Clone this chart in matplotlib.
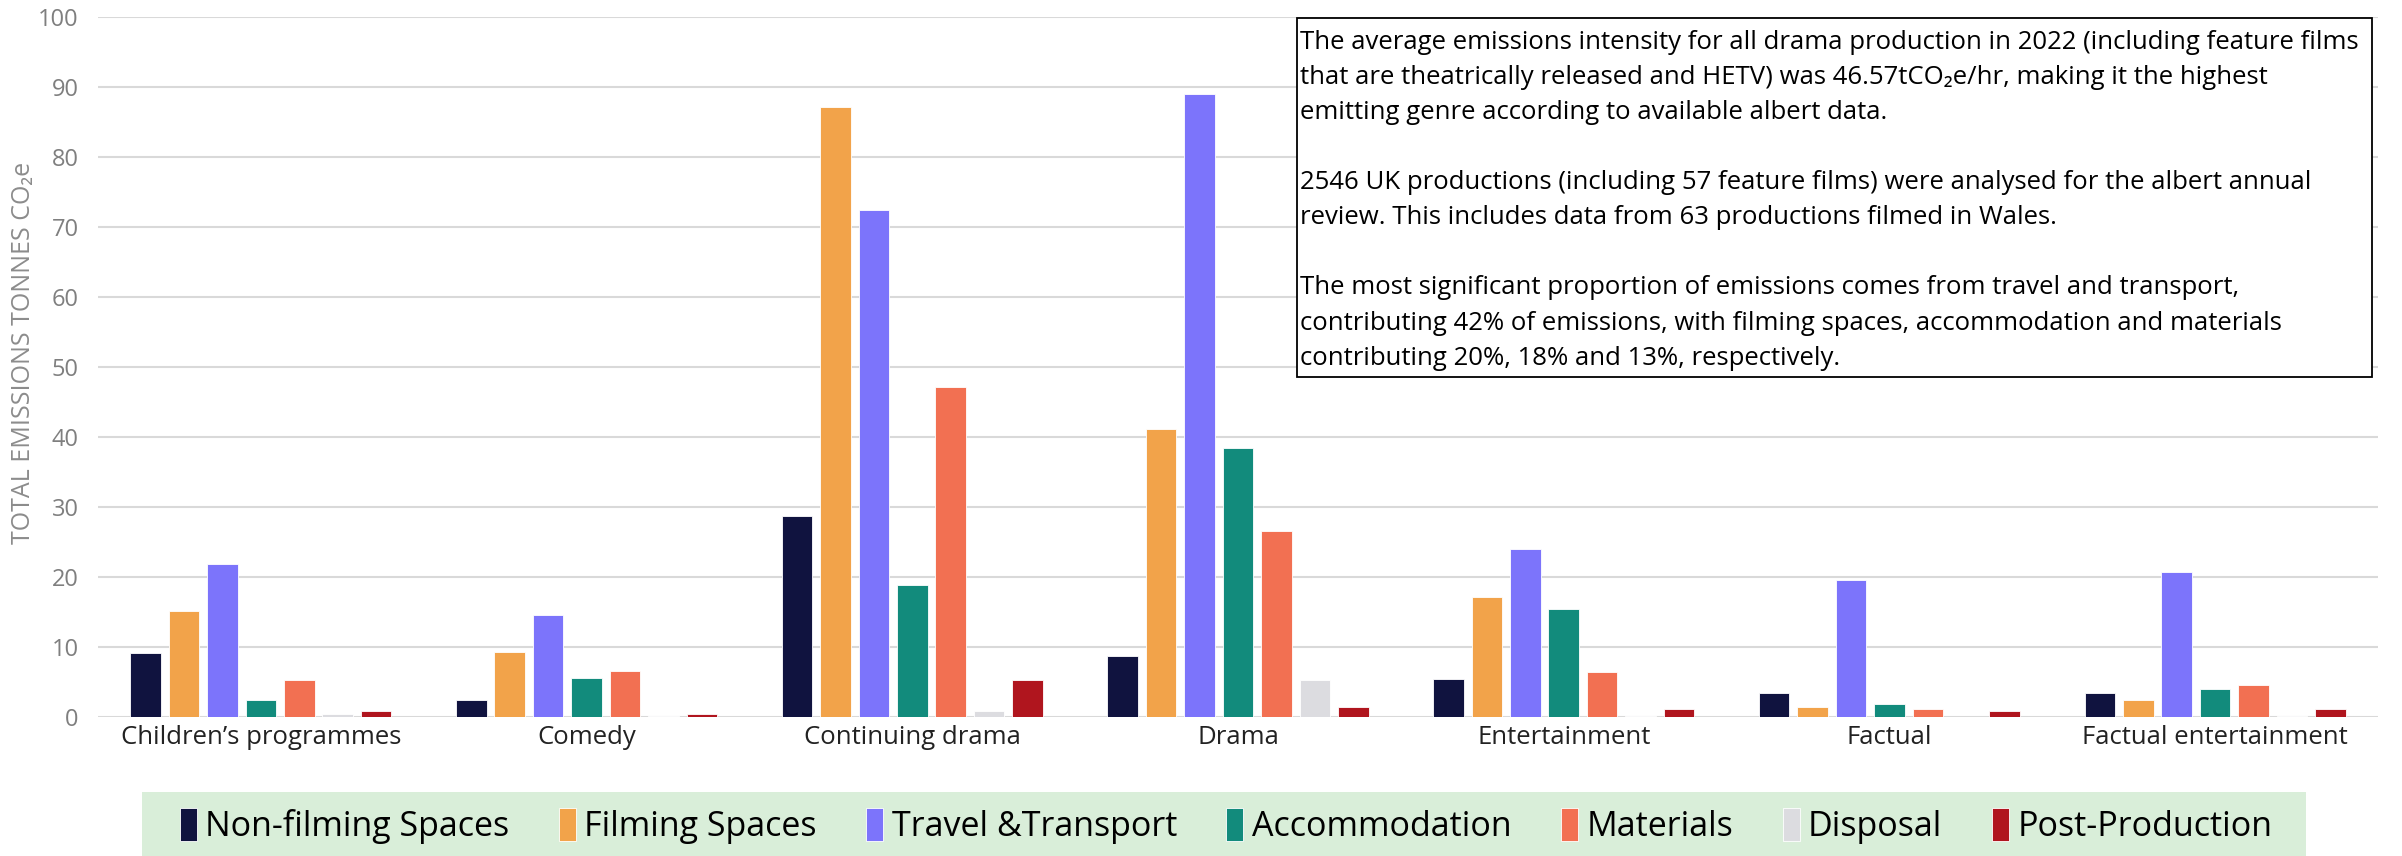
import matplotlib
matplotlib.use("Agg")
import matplotlib.pyplot as plt
from matplotlib.patches import Rectangle
import numpy as np

plt.rcParams["font.family"] = ["Open Sans", "DejaVu Sans"]

genres = ["Children\u2019s programmes", "Comedy", "Continuing drama", "Drama",
          "Entertainment", "Factual", "Factual entertainment"]
categories = ["Non-filming Spaces", "Filming Spaces", "Travel &Transport",
              "Accommodation", "Materials", "Disposal", "Post-Production"]
colors = ["#10133f", "#f2a34a", "#7c74fb", "#128b7c", "#f27052", "#dcdce0", "#b0151e"]

non_filming   = [9.2, 2.5, 28.7, 8.7, 5.4, 3.5, 3.4]
filming       = [15.1, 9.3, 87.2, 41.2, 17.1, 1.4, 2.4]
travel        = [21.9, 14.6, 72.5, 89.0, 24.0, 19.6, 20.7]
accommodation = [2.5, 5.6, 18.9, 38.5, 15.4, 1.9, 4.0]
materials     = [5.3, 6.6, 47.1, 26.6, 6.5, 1.1, 4.6]
disposal      = [0.5, 0.2, 0.8, 5.3, 0.15, 0.0, 0.15]
post_prod     = [0.9, 0.5, 5.3, 1.4, 1.2, 0.9, 1.2]
series = [non_filming, filming, travel, accommodation, materials, disposal, post_prod]

yticks = list(range(0, 101, 10))

note = ("The average emissions intensity for all drama production in 2022 (including feature films\n"
        "that are theatrically released and HETV) was 46.57tCO\u2082e/hr, making it the highest\n"
        "emitting genre according to available albert data.\n"
        "\n"
        "2546 UK productions (including 57 feature films) were analysed for the albert annual\n"
        "review. This includes data from 63 productions filmed in Wales.\n"
        "\n"
        "The most significant proportion of emissions comes from travel and transport,\n"
        "contributing 42% of emissions, with filming spaces, accommodation and materials\n"
        "contributing 20%, 18% and 13%, respectively.")

W, H = 2402, 856
fig = plt.figure(figsize=(W / 100, H / 100), dpi=100)
ax = fig.add_axes([98 / W, 1 - 717 / H, (2378 - 98) / W, (717 - 17) / H])

x = np.arange(len(genres))
pitch = 0.118
bw = 0.094
for i, (vals, name, c) in enumerate(zip(series, categories, colors)):
    ax.bar(x + (i - 3) * pitch, vals, bw, color=c, label=name,
           edgecolor="white", linewidth=0.6, zorder=3)

ax.set_xlim(-0.5, len(genres) - 0.5)
ax.set_ylim(0, 100)
ax.set_yticks(yticks)
ax.set_xticks(x)
ax.set_xticklabels(genres, fontsize=18.5, color="#222222")
ax.tick_params(axis="y", labelsize=17, labelcolor="#7f7f7f", length=0, pad=14)
ax.tick_params(axis="x", length=0, pad=6)
ax.grid(axis="y", color="#d9d9d9", linewidth=1.5, zorder=0)
for s in ax.spines.values():
    s.set_visible(False)
ax.set_ylabel("TOTAL EMISSIONS TONNES CO\u2082e", fontsize=18, color="#8c8c8c", labelpad=0)
ax.yaxis.set_label_coords(-0.027, 0.52)

# note box
fig.add_artist(Rectangle((1297 / W, 1 - 377 / H), (2372 - 1297) / W, (377 - 18) / H,
                         transform=fig.transFigure, facecolor="white",
                         edgecolor="black", linewidth=1.3, zorder=5))
fig.text(1300 / W, 1 - 30 / H, note, fontsize=18.5, va="top", ha="left",
         linespacing=1.53, color="black", zorder=6)

# legend strip
fig.add_artist(Rectangle((142 / W, 0), (2306 - 142) / W, 64 / H,
                         transform=fig.transFigure, facecolor="#d9eed9",
                         edgecolor="none", zorder=1))
leg = fig.legend(loc="center", bbox_to_anchor=(1226 / W, 1 - 826 / H), ncol=7, fontsize=24.5,
                 frameon=False, borderaxespad=0,
                 handlelength=0.5, handleheight=1.1, handletextpad=0.25,
                 columnspacing=1.45)

fig.savefig("out.png", dpi=100)
